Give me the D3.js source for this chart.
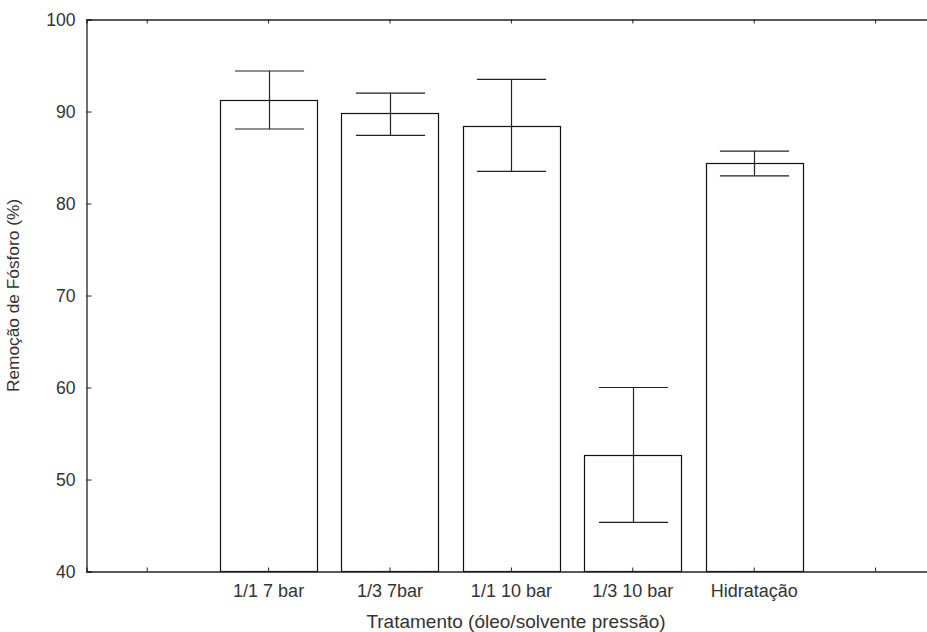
<!DOCTYPE html>
<html>
<head>
<meta charset="utf-8">
<script src="https://cdn.jsdelivr.net/npm/d3@7"></script>
<style>
  html, body { margin: 0; padding: 0; background: #fff; }
  svg { display: block; }
  text { font-family: "Liberation Sans", Arial, sans-serif; fill: #333; }
</style>
</head>
<body>
<svg id="chart" width="927" height="632"></svg>
<script>
// ---- data ----
const categories = ["1/1 7 bar", "1/3 7bar", "1/1 10 bar", "1/3 10 bar", "Hidratação"];
const means      = [91.3, 89.8, 88.4, 52.7, 84.4];
const upper      = [94.4, 92.0, 93.5, 60.0, 85.7];
const lower      = [88.1, 87.4, 83.5, 45.35, 83.0];
const yTicks     = [40, 50, 60, 70, 80, 90, 100];
const xTitle = "Tratamento (óleo/solvente pressão)";
const yTitle = "Remoção de Fósforo (%)";

// ---- layout ----
const svg = d3.select("#chart");
const mLeft = 86.5, mTop = 19.5, mBottom = 571.5;
const slots = ["_pre", ...categories, "_post"];
const step = 121.4;
const mRight = mLeft + step * slots.length;

const x = d3.scaleBand().domain(slots).range([mLeft, mRight]).padding(0);
const y = d3.scaleLinear().domain([40, 100]).range([mBottom, mTop]);
const bw = x.bandwidth();
const cx = c => x(c) + bw / 2;

const data = categories.map((c, i) => ({ c, m: means[i], hi: upper[i], lo: lower[i] }));

const axisColor = "#222";
const font = "'Liberation Sans', Arial, sans-serif";

// bars
svg.append("g").selectAll("rect").data(data).join("rect")
  .attr("x", d => Math.round(cx(d.c) - bw * 0.4) + 0.5)
  .attr("y", d => Math.round(y(d.m)) + 0.5)
  .attr("width", Math.round(bw * 0.8))
  .attr("height", d => mBottom - (Math.round(y(d.m)) + 0.5))
  .attr("fill", "#fff")
  .attr("stroke", "#111")
  .attr("stroke-width", 1.2);

// error bars
const eb = svg.append("g").attr("stroke", "#222").attr("stroke-width", 1.2);
const capW = bw * 0.57;
data.forEach(d => {
  const xc = Math.round(cx(d.c)) + 0.5;
  eb.append("line").attr("x1", xc).attr("x2", xc).attr("y1", y(d.hi)).attr("y2", y(d.lo));
  eb.append("line").attr("x1", xc - capW / 2).attr("x2", xc + capW / 2).attr("y1", y(d.hi)).attr("y2", y(d.hi));
  eb.append("line").attr("x1", xc - capW / 2).attr("x2", xc + capW / 2).attr("y1", y(d.lo)).attr("y2", y(d.lo));
});

// axes (inward ticks)
const yAxis = d3.axisLeft(y).tickValues(yTicks).tickSize(-5).tickPadding(11).tickFormat(d3.format("d"));
const gy = svg.append("g").attr("transform", `translate(${mLeft},0)`).call(yAxis);
gy.select(".domain").attr("stroke", axisColor).attr("stroke-width", 1.3);
gy.selectAll(".tick line").attr("stroke", axisColor);
gy.selectAll(".tick text").attr("font-size", "17.6px").attr("fill", "#333").style("font-family", font);

const xAxisB = d3.axisBottom(x).tickSize(-4).tickPadding(13)
  .tickFormat(d => d.startsWith("_") ? "" : d);
const gx = svg.append("g").attr("transform", `translate(0,${mBottom})`).call(xAxisB);
gx.select(".domain").attr("stroke", axisColor).attr("stroke-width", 1.3);
gx.selectAll(".tick line").attr("stroke", axisColor);
gx.selectAll(".tick text").attr("font-size", "18px").attr("fill", "#333").style("font-family", font);

const xAxisT = d3.axisTop(x).tickSize(-4).tickFormat("");
const gxt = svg.append("g").attr("transform", `translate(0,${mTop})`).call(xAxisT);
gxt.select(".domain").attr("stroke", axisColor).attr("stroke-width", 1.3);
gxt.selectAll(".tick line").attr("stroke", axisColor);

// titles
svg.append("text")
  .attr("x", 516)
  .attr("y", 628)
  .attr("text-anchor", "middle")
  .attr("font-size", "19px")
  .text(xTitle);

svg.append("text")
  .attr("transform", `translate(19,${(mTop + mBottom) / 2}) rotate(-90)`)
  .attr("text-anchor", "middle")
  .attr("font-size", "17.3px")
  .text(yTitle);
</script>
</body>
</html>
